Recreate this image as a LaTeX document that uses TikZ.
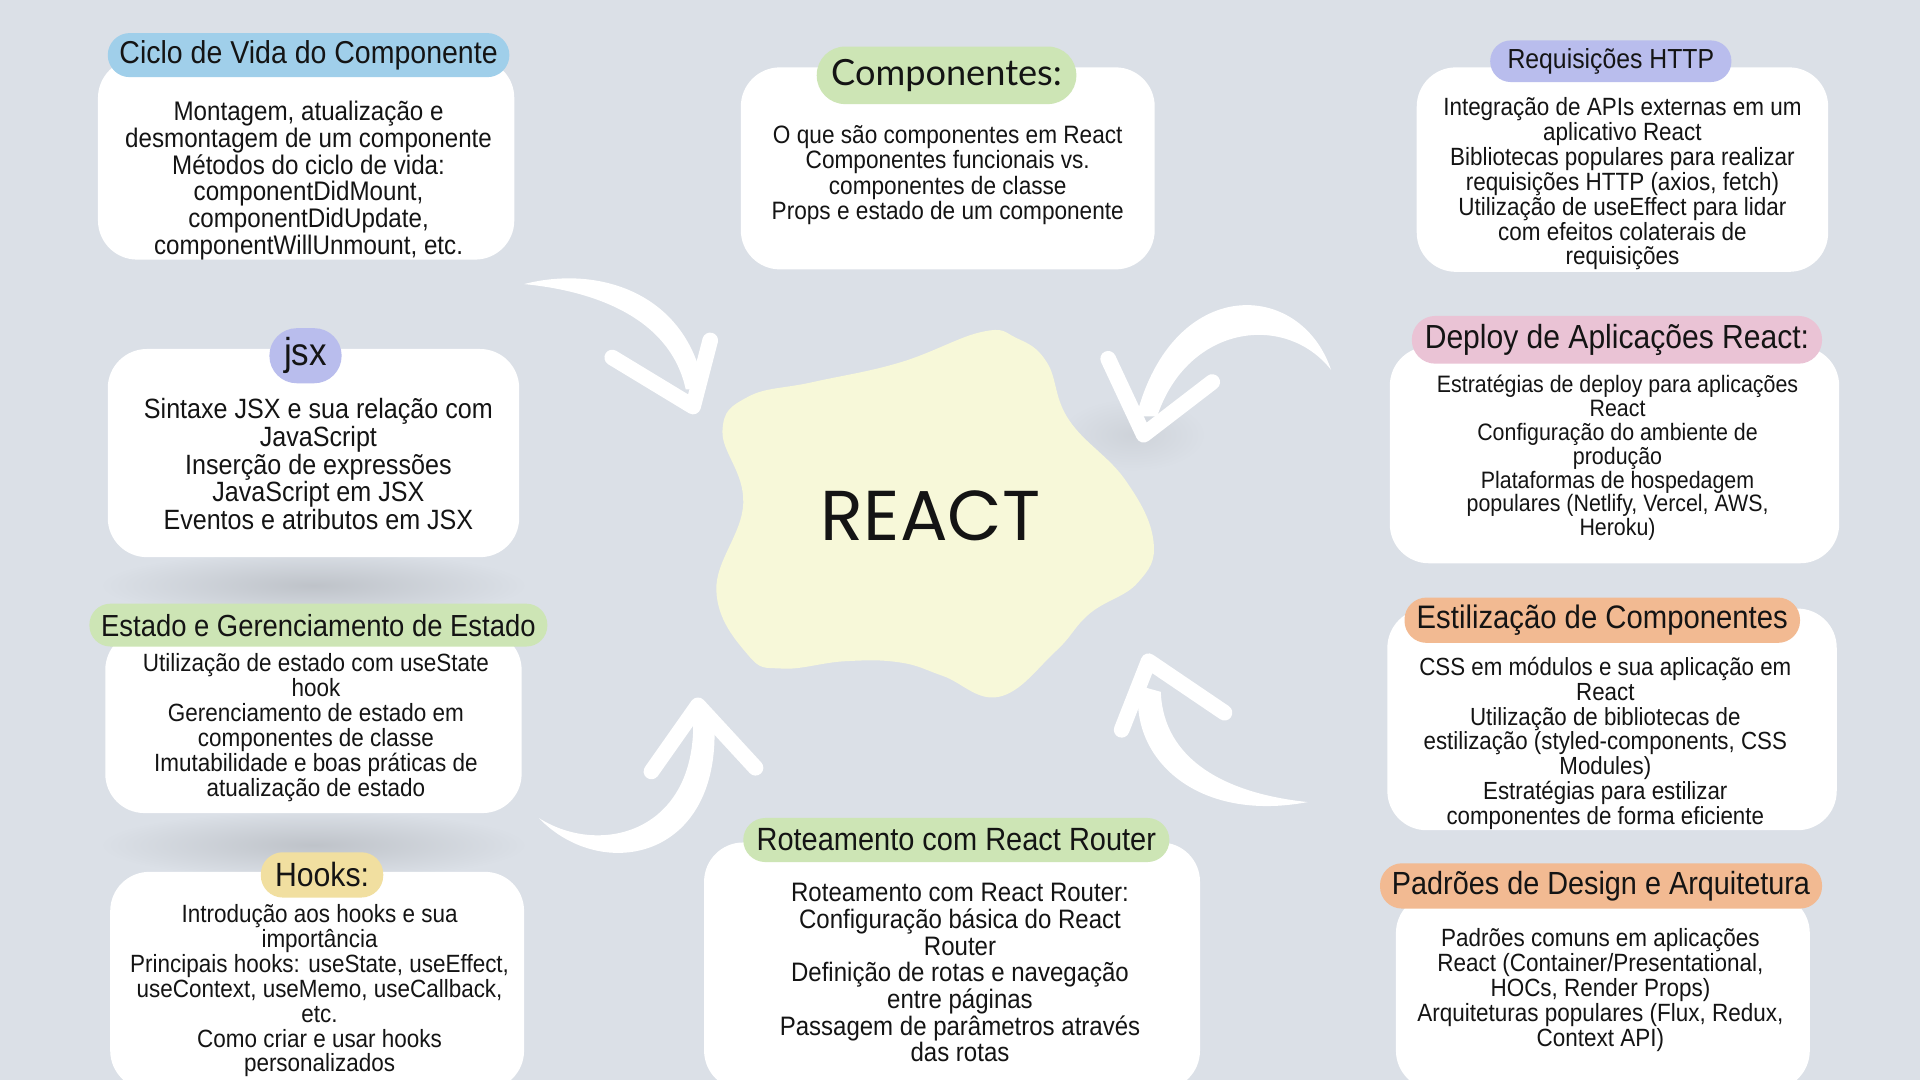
\documentclass[tikz,border=0pt]{standalone}
\usepackage{fontspec}
\setmainfont{Liberation Sans}[FakeStretch=0.9]
\newfontfamily\headfont{Lato}
\newfontfamily\reactfont{Poppins}
\usetikzlibrary{positioning}
\definecolor{bgc}{RGB}{219,224,231}
\definecolor{ink}{RGB}{20,20,20}
\definecolor{blobc}{RGB}{247,248,217}
\definecolor{pblue}{RGB}{160,207,234}
\definecolor{pgreen}{RGB}{205,229,181}
\definecolor{plav}{RGB}{185,189,237}
\definecolor{ppink}{RGB}{234,195,213}
\definecolor{porange}{RGB}{242,186,146}
\definecolor{pyellow}{RGB}{241,223,160}
\newcommand\fs[1]{\fontsize{#1}{#1}\selectfont}
\tikzset{
  card/.style={fill=white,rounded corners=8mm,inner sep=0pt},
  pill/.style={rounded corners=4.5mm,inner sep=0pt,text=ink},
  body/.style={align=center,text=ink,inner sep=0pt},
  arrowbody/.style={fill=white},
  wing/.style={draw=white,line width=3.2mm,line cap=round,line join=round},
  shadowspot/.style={inner color=black!13!bgc,outer color=bgc}
}

\begin{document}
\begin{tikzpicture}[x=0.25mm,y=-0.25mm]
\useasboundingbox (0,0) rectangle (1568,882);
\fill[bgc] (0,0) rectangle (1568,882);
\clip (0,0) rectangle (1568,882);

% soft shadows
\shade[shadowspot] (256,478) ellipse [x radius=175, y radius=28];
\shade[shadowspot] (256,690) ellipse [x radius=175, y radius=28];
\shade[inner color=black!6!bgc,outer color=bgc] (925,355) ellipse [x radius=60, y radius=30];

% centre
\fill[blobc] plot[smooth cycle,tension=0.7] coordinates {(802,271) (830,276) (855,296) (873,343) (919,392) (942,442) (929,476) (890,501) (862,532) (816,569) (770,552) (735,541) (690,540) (639,546) (611,535) (585,482) (607,411) (590,352) (611,324) (664,312) (735,296)};
\node[text=ink,font=\reactfont\fontsize{41}{41}\selectfont] (react) at (760,421) {REACT};

% arrows
\fill[arrowbody] (428,232) .. controls (490,216) and (562,240) .. (575,318) -- (560,318) .. controls (548,262) and (490,238) .. (428,232) -- cycle;
\draw[wing] (500,292) -- (566,332) -- (580,278);
\fill[arrowbody] (1087,302) .. controls (1062,228) and (958,224) .. (928,340) -- (945,340) .. controls (970,265) and (1050,255) .. (1087,302) -- cycle;
\draw[wing] (905,293) -- (934,355) -- (990,312);
\fill[arrowbody] (440,668) .. controls (492,722) and (592,702) .. (583,585) -- (566,585) .. controls (570,680) and (490,700) .. (440,668) -- cycle;
\draw[wing] (532,630) -- (570,576) -- (617,627);
\fill[arrowbody] (1068,655) .. controls (978,672) and (922,620) .. (930,560) -- (948,565) .. controls (950,620) and (1000,648) .. (1068,655) -- cycle;
\draw[wing] (916,596) -- (938,540) -- (1000,582);

% cards
\node[card,minimum width=85mm,minimum height=41mm] (ciclo) at (250,130) {};
\node[card,minimum width=84.5mm,minimum height=41.25mm] (comp) at (774,137.5) {};
\node[card,minimum width=84mm,minimum height=41.75mm] (http) at (1325,138.5) {};
\node[card,minimum width=84mm,minimum height=42.5mm] (jsx) at (256,370) {};
\node[card,minimum width=85mm,minimum height=37.25mm] (estado) at (256,589.5) {};
\node[card,minimum width=84.5mm,minimum height=44.5mm] (hooks) at (259,801) {};
\node[card,minimum width=101.25mm,minimum height=50.5mm] (rotas) at (777.5,789) {};
\node[card,minimum width=91.75mm,minimum height=44.25mm] (deploy) at (1318.5,371.5) {};
\node[card,minimum width=91.75mm,minimum height=45.25mm] (estilo) at (1316.5,587.5) {};
\node[card,minimum width=84.5mm,minimum height=40mm] (padroes) at (1309,810) {};

% titles
\node[pill,fill=pblue,minimum width=82mm,minimum height=9mm,font=\fs{18.4}] (ciclot) at (252,45) {Ciclo de Vida do Componente};
\node[pill,fill=pgreen,rounded corners=5.8mm,minimum width=53mm,minimum height=11.75mm,font=\headfont\fs{21}] (compt) at (773,61.5) {Componentes:};
\node[pill,fill=plav,rounded corners=4.2mm,minimum width=49.25mm,minimum height=8.5mm,font=\fs{16}] (httpt) at (1315.5,50) {Requisições HTTP};
\node[pill,fill=plav,rounded corners=5.6mm,minimum width=14.75mm,minimum height=11.25mm,font=\fs{22.6}] (jsxt) at (249.5,290.5) {jsx};
\node[pill,fill=pgreen,rounded corners=4.3mm,minimum width=93.5mm,minimum height=8.75mm,font=\fs{17.7}] (estadot) at (260,510.5) {Estado e Gerenciamento de Estado};
\node[pill,fill=pyellow,minimum width=25mm,minimum height=9.25mm,font=\fs{19.5}] (hookst) at (263,714.5) {Hooks:};
\node[pill,fill=pgreen,minimum width=87mm,minimum height=9mm,font=\fs{18.7}] (rotast) at (781,686) {Roteamento com React Router};
\node[pill,fill=ppink,rounded corners=4.8mm,minimum width=83.75mm,minimum height=9.75mm,font=\fs{19.4}] (deployt) at (1320.5,277.5) {Deploy de Aplicações React:};
\node[pill,fill=porange,minimum width=80.75mm,minimum height=9.25mm,font=\fs{18.9}] (estilot) at (1308.5,506.5) {Estilização de Componentes};
\node[pill,fill=porange,minimum width=90.25mm,minimum height=9.25mm,font=\fs{18.6}] (padroest) at (1307.5,723.5) {Padrões de Design e Arquitetura};

% texts
\node[body,font=\fs{15.6}] (ciclox) at (252,147.5) {Montagem, atualização e\\desmontagem de um componente\\Métodos do ciclo de vida:\\componentDidMount,\\componentDidUpdate,\\componentWillUnmount, etc.};
\node[body,font=\fs{14.6}] (compx) at (774,143) {O que são componentes em React\\Componentes funcionais vs.\\componentes de classe\\Props e estado de um componente};
\node[body,font=\fs{14.5}] (httpx) at (1325,150) {Integração de APIs externas em um\\aplicativo React\\Bibliotecas populares para realizar\\requisições HTTP (axios, fetch)\\Utilização de useEffect para lidar\\com efeitos colaterais de\\requisições};
\node[body,font=\fs{16.2}] (jsxx) at (260,379) {Sintaxe JSX e sua relação com\\JavaScript\\Inserção de expressões\\JavaScript em JSX\\Eventos e atributos em JSX};
\node[body,font=\fs{14.5}] (estadox) at (258,594.5) {Utilização de estado com useState\\hook\\Gerenciamento de estado em\\componentes de classe\\Imutabilidade e boas práticas de\\atualização de estado};
\node[body,font=\fs{14.5}] (hooksx) at (261,809) {Introdução aos hooks e sua\\importância\\Principais hooks: useState, useEffect,\\useContext, useMemo, useCallback,\\etc.\\Como criar e usar hooks\\personalizados};
\node[body,font=\fs{15.5}] (rotasx) at (784,794.5) {Roteamento com React Router:\\Configuração básica do React\\Router\\Definição de rotas e navegação\\entre páginas\\Passagem de parâmetros através\\das rotas};
\node[body,font=\fs{13.8}] (deployx) at (1321,374) {Estratégias de deploy para aplicações\\React\\Configuração do ambiente de\\produção\\Plataformas de hospedagem\\populares (Netlify, Vercel, AWS,\\Heroku)};
\node[body,font=\fs{14.4}] (estilox) at (1311,607) {CSS em módulos e sua aplicação em\\React\\Utilização de bibliotecas de\\estilização (styled-components, CSS\\Modules)\\Estratégias para estilizar\\componentes de forma eficiente};
\node[body,font=\fs{14.5}] (padroesx) at (1307,808.5) {Padrões comuns em aplicações\\React (Container/Presentational,\\HOCs, Render Props)\\Arquiteturas populares (Flux, Redux,\\Context API)};
\end{tikzpicture}
\end{document}
